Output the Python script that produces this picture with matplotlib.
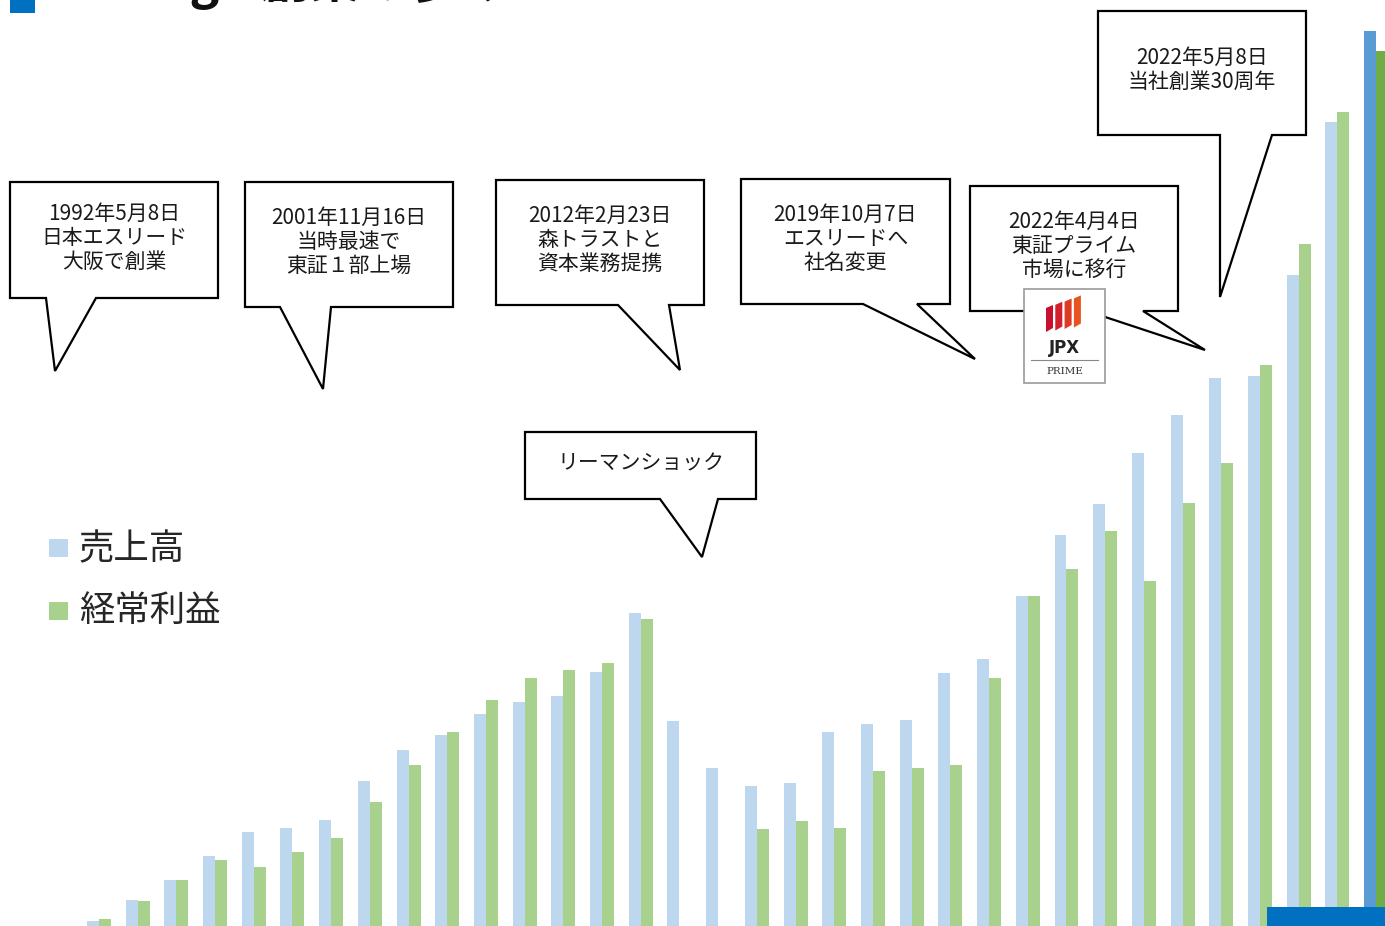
import matplotlib
matplotlib.use("Agg")
import matplotlib.pyplot as plt
import numpy as np
from matplotlib.patches import Polygon, Rectangle

plt.rcParams['font.family'] = ['Noto Sans CJK JP', 'DejaVu Sans']

# Yearly sales and ordinary profit (relative scale), FY1 .. FY34
sales = [5, 26, 46, 70, 94, 98, 106, 145, 176, 191, 212, 224, 230, 254, 313,
         205, 158, 140, 143, 194, 202, 206, 253, 267, 330, 391, 422, 473, 511,
         548, 550, 651, 804, 895]
profit = [7, 25, 46, 66, 59, 74, 88, 124, 161, 194, 226, 248, 256, 263, 307,
          0, 0, 97, 105, 98, 155, 158, 161, 248, 330, 357, 395, 345, 423, 463,
          561, 682, 814, 875]
series_names = ["売上高", "経常利益"]

events = [
    "1992年5月8日\n日本エスリード\n大阪で創業",
    "2001年11月16日\n当時最速で\n東証１部上場",
    "2012年2月23日\n森トラストと\n資本業務提携",
    "2019年10月7日\nエスリードへ\n社名変更",
    "2022年4月4日\n東証プライム\n市場に移行",
    "2022年5月8日\n当社創業30周年",
    "リーマンショック",
]

W, H = 1385, 926
fig = plt.figure(figsize=(W / 100, H / 100), dpi=100)

# ---- bar chart ----
ax = fig.add_axes([0, 0, 1, 1])
n = len(sales)
x = np.arange(n)
bw = 0.31
blue_c = ['#BDD7EE'] * (n - 1) + ['#5B9BD5']
green_c = ['#A9D18E'] * (n - 1) + ['#70AD47']
ax.bar(x - bw / 2, sales, width=bw, color=blue_c, linewidth=0, zorder=2)
ax.bar(x + bw / 2, profit, width=bw, color=green_c, linewidth=0, zorder=2)
ax.set_xlim(-2.558, 33.23)
ax.set_ylim(0, H)
ax.axis('off')

# ---- overlay in pixel coordinates for callouts ----
ov = fig.add_axes([0, 0, 1, 1], zorder=5)
ov.set_xlim(0, W)
ov.set_ylim(H, 0)
ov.axis('off')
ov.patch.set_alpha(0)

# title strip (runs off the top edge)
ov.add_patch(Rectangle((10, -5), 25, 18, color='#0070C0', lw=0))
ov.text(58, -1.5, "S-Stage 創業の歩み", fontsize=36, fontweight='bold',
        color='#111111', va='baseline', ha='left')

# bottom-right accent bar
ov.add_patch(Rectangle((1267, 907), 130, 25, color='#0070C0', lw=0))


def callout(x0, y0, x1, y1, t1, t2, tip, text, ty, fs=15):
    verts = [(x0, y0), (x1, y0), (x1, y1), (t2, y1), tip, (t1, y1), (x0, y1)]
    ov.add_patch(Polygon(verts, closed=True, facecolor='white',
                         edgecolor='black', lw=1.6, zorder=3))
    ov.text((x0 + x1) / 2, ty, text, ha='center', va='center', fontsize=fs,
            color='#1a1a1a', linespacing=1.12, zorder=4)


callout(10, 182, 218, 298, 46, 96, (55, 371), events[0], 238)
callout(245, 182, 453, 307, 280, 331, (323, 389), events[1], 242)
callout(496, 180, 704, 305, 618, 669, (680, 370), events[2], 240)
callout(741, 179, 950, 304, 863, 917, (975, 359), events[3], 239)
callout(970, 186, 1178, 311, 1087, 1143, (1205, 350), events[4], 246)
callout(1098, 11, 1306, 135, 1220, 1272, (1220, 297), events[5], 70)
callout(525, 432, 756, 499, 660, 718, (702, 557), events[6], 463)

# JPX PRIME badge
ov.add_patch(Rectangle((1024, 289), 81, 94, facecolor='white',
                       edgecolor='#9a9a9a', lw=1.2, zorder=6))
stripe_cols = ['#C8102E', '#D21F2B', '#DE3A25', '#E8541F']
for i, c in enumerate(stripe_cols):
    xl = 1046 + 9.3 * i
    top = 305 - 3.2 * i
    bot = 332 - 1.5 * i
    ov.add_patch(Polygon([(xl, top + 3), (xl + 7, top), (xl + 7, bot - 4),
                          (xl, bot)], closed=True, facecolor=c, lw=0,
                         zorder=7))
ov.text(1064.5, 348, "JPX", ha='center', va='center', fontsize=12,
        fontweight='bold', color='#222222', family=['DejaVu Sans'], zorder=7)
ov.plot([1031, 1098], [360, 360], color='#888888', lw=0.8, zorder=7)
ov.text(1064.5, 371, "PRIME", ha='center', va='center', fontsize=7.5,
        color='#333333', family=['DejaVu Serif'], zorder=7)

# legend
ov.add_patch(Rectangle((49, 539), 19, 18, color='#BDD7EE', lw=0))
ov.add_patch(Rectangle((49, 602), 19, 18, color='#A9D18E', lw=0))
ov.text(79, 549, series_names[0], fontsize=25.5, va='center', ha='left',
        color='#262626')
ov.text(79, 611, series_names[1], fontsize=25.5, va='center', ha='left',
        color='#262626')

fig.savefig("out.png", dpi=100)
